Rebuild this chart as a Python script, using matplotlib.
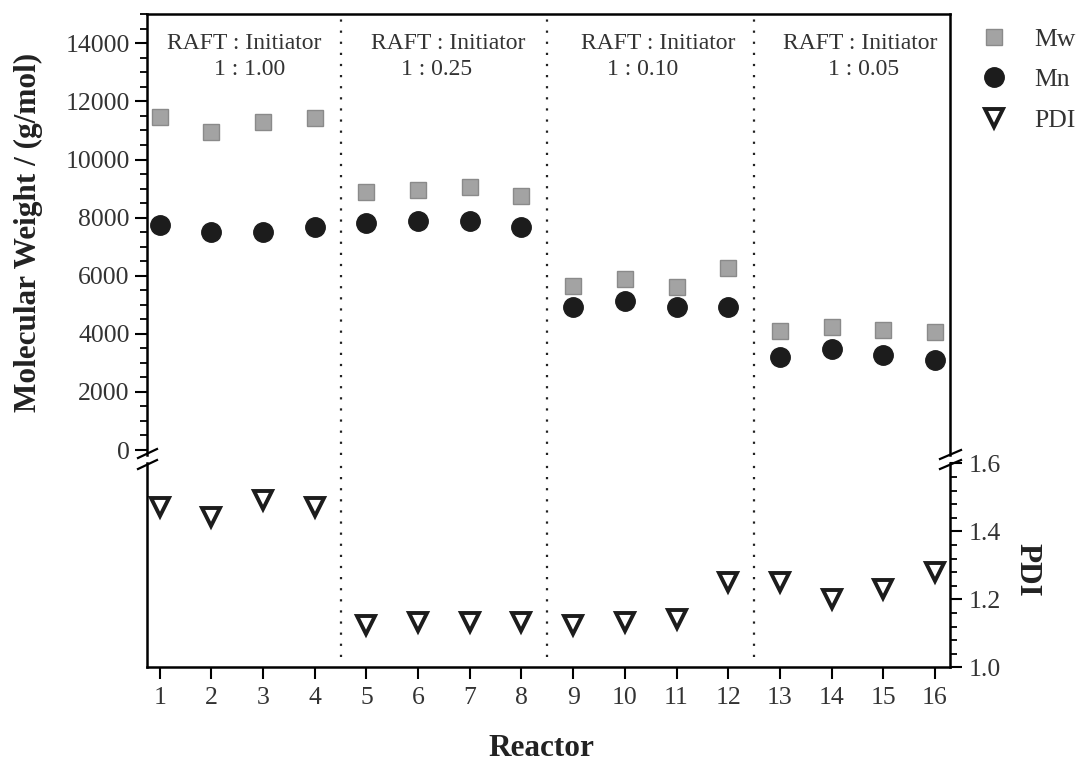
import numpy as np
import matplotlib
matplotlib.use("Agg")
import matplotlib.pyplot as plt
from matplotlib.lines import Line2D
from matplotlib.ticker import MultipleLocator

plt.rcParams['font.family'] = ['Liberation Serif', 'DejaVu Serif']

# ---------------- data ----------------
reactors = list(range(1, 17))
mw = [11470, 10960, 11280, 11420, 8890, 8950, 9040, 8740,
      5650, 5880, 5620, 6250, 4100, 4240, 4130, 4070]
mn = [7750, 7490, 7490, 7690, 7820, 7890, 7890, 7670,
      4930, 5140, 4910, 4930, 3210, 3480, 3270, 3100]
pdi = [1.472, 1.443, 1.491, 1.471, 1.124, 1.134, 1.134, 1.134,
       1.124, 1.134, 1.143, 1.250, 1.250, 1.201, 1.231, 1.280]
group_ratios = ["1 : 1.00", "1 : 0.25", "1 : 0.10", "1 : 0.05"]
group_bounds = [4.5, 8.5, 12.5]

W, H = 1089, 765
fig = plt.figure(figsize=(W / 100, H / 100), dpi=100)
fig.patch.set_facecolor('white')

def fx(px):
    return px / W

def fy(py):
    return 1 - py / H

L, R = 147, 950
top_t, top_b = 14, 455
bot_t, bot_b = 463.3, 667.3

ax_top = fig.add_axes([fx(L), fy(top_b), fx(R) - fx(L), fy(top_t) - fy(top_b)])
ax_bot = fig.add_axes([fx(L), fy(bot_b), fx(R) - fx(L), fy(bot_t) - fy(bot_b)])

xlim = (0.756, 16.29)
for ax in (ax_top, ax_bot):
    ax.set_xlim(*xlim)
    ax.set_facecolor('none')
    for s in ax.spines.values():
        s.set_linewidth(1.8)
        s.set_color('black')

ax_top.set_ylim(-172, 15009)
ax_bot.set_ylim(1.0, 1.6)

# spines
ax_top.spines['bottom'].set_visible(False)
ax_bot.spines['top'].set_visible(False)

# top axis ticks
ax_top.tick_params(axis='x', which='both', bottom=False, top=False, labelbottom=False)
ax_top.yaxis.set_major_locator(MultipleLocator(2000))
ax_top.yaxis.set_minor_locator(MultipleLocator(500))
ax_top.tick_params(axis='y', which='major', direction='out', length=8.5, width=1.5,
                   labelsize=18.5, labelcolor='#333333', pad=4, right=False)
ax_top.tick_params(axis='y', which='minor', direction='out', length=5, width=1.3, right=False)

# bottom axis ticks
ax_bot.set_xticks(reactors)
ax_bot.tick_params(axis='x', which='major', direction='out', length=8.5, width=1.5,
                   labelsize=18.5, labelcolor='#333333', pad=6)
ax_bot.yaxis.tick_right()
ax_bot.yaxis.set_major_locator(MultipleLocator(0.2))
ax_bot.yaxis.set_minor_locator(MultipleLocator(0.04))
ax_bot.yaxis.set_major_formatter(matplotlib.ticker.FormatStrFormatter('%.1f'))
ax_bot.tick_params(axis='y', which='major', direction='out', length=8.5, width=1.5,
                   labelsize=18.5, labelcolor='#333333', pad=5, left=False)
ax_bot.tick_params(axis='y', which='minor', direction='out', length=5, width=1.3, left=False)

# dotted separators
for b in group_bounds:
    ax_top.axvline(b, ymin=0, ymax=0.99, color='#222222', lw=1.6, linestyle=(0, (1, 4)))
    ax_bot.axvline(b, ymin=0.05, ymax=1, color='#222222', lw=1.6, linestyle=(0, (1, 4)))

# data
h_mw, = ax_top.plot(reactors, mw, linestyle='none', marker='s', markersize=11,
                    markerfacecolor='#a3a3a3', markeredgecolor='#8a8a8a',
                    markeredgewidth=1.0, label='Mw')
h_mn, = ax_top.plot(reactors, mn, linestyle='none', marker='o', markersize=14,
                    markerfacecolor='#1c1c1c', markeredgecolor='#1c1c1c', label='Mn')
h_pdi, = ax_bot.plot(reactors, pdi, linestyle='none', marker='v', markersize=13,
                     markerfacecolor='white', markeredgecolor='#1c1c1c',
                     markeredgewidth=2.8, label='PDI')

# group text
raft_x = [2.63, 6.59, 10.64, 14.55]
ratio_x = [2.74, 6.35, 10.35, 14.61]
for xr, xq, lab in zip(raft_x, ratio_x, group_ratios):
    ax_top.text(xr, 0.934, "RAFT : Initiator", transform=ax_top.get_xaxis_transform(),
                ha='center', va='center', fontsize=17, color='#333333')
    ax_top.text(xq, 0.875, lab, transform=ax_top.get_xaxis_transform(),
                ha='center', va='center', fontsize=17, color='#333333')

# legend
leg = fig.legend(handles=[h_mw, h_mn, h_pdi], loc='upper left',
                 bbox_to_anchor=(fx(979), fy(28)), frameon=False,
                 fontsize=18.5, handlelength=1.2, handletextpad=0.95,
                 labelspacing=0.68, borderaxespad=0, borderpad=0)
for t in leg.get_texts():
    t.set_color('#333333')

# axis labels
fig.text(fx(28), fy(232), "Molecular Weight / (g/mol)", rotation=90, ha='center',
         va='center', fontsize=22.5, fontweight='bold', color='#222222')
fig.text(fx(541), fy(748), "Reactor", ha='center', va='center', fontsize=22.5,
         fontweight='bold', color='#222222')
fig.text(fx(1027), fy(570), "PDI", rotation=270, ha='center', va='center',
         fontsize=22.5, fontweight='bold', color='#222222')

# axis break marks
def brk(x0, y0, x1, y1):
    fig.add_artist(Line2D([fx(x0), fx(x1)], [fy(y0), fy(y1)], color='black',
                          lw=1.6, transform=fig.transFigure))

brk(138, 458, 157, 449)
brk(138, 469, 157, 460)
brk(940, 459, 961, 450)
brk(940, 469, 961, 460)

fig.savefig("out.png", dpi=100, facecolor='white')
